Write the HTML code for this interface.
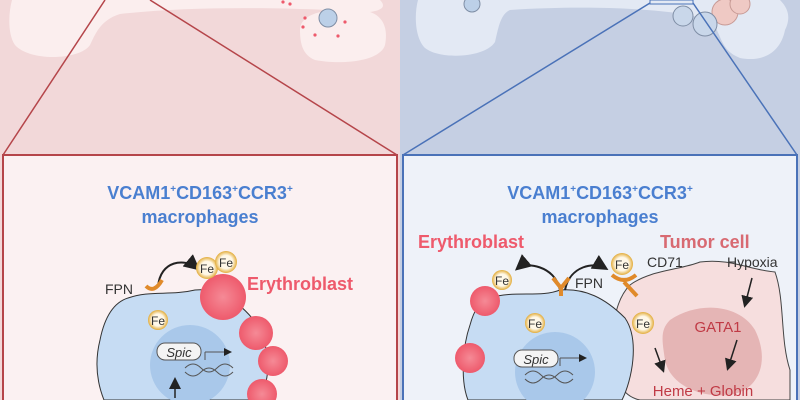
<!DOCTYPE html>
<html><head><style>html,body{margin:0;padding:0;background:#fff}svg{display:block}text{font-family:"Liberation Sans",sans-serif}</style></head><body>
<svg width="800" height="400" viewBox="0 0 800 400" xmlns="http://www.w3.org/2000/svg">
<defs>
<marker id="ah" markerWidth="8" markerHeight="8" refX="6" refY="4" orient="auto"><path d="M0,0 L8,4 L0,8 z" fill="#222"/></marker>
<radialGradient id="rbc" cx="50%" cy="50%" r="50%"><stop offset="0" stop-color="#f58a96"/><stop offset="1" stop-color="#ee5a6c"/></radialGradient>
<radialGradient id="fe" cx="50%" cy="50%" r="50%"><stop offset="0.6" stop-color="#fff8e8"/><stop offset="1" stop-color="#e2ac3a"/></radialGradient>
</defs>
<rect x="0" y="0" width="400" height="400" fill="#f2d8d9"/>
<rect x="400" y="0" width="400" height="400" fill="#c5cfe3"/>
<!-- top blobs left -->
<path d="M12,0 L380,0 C385,5 385,10 370,12 C300,8 200,5 120,14 C100,20 95,35 90,45 C80,60 30,62 15,45 C8,35 8,15 12,0Z" fill="#fbeeee"/>
<path d="M300,30 C300,12 330,8 360,10 C385,12 388,30 385,45 C380,62 340,65 315,60 C302,55 300,42 300,30Z" fill="#fbeeee"/>
<circle cx="328" cy="18" r="9" fill="#bcd0e8" stroke="#7f8ea5"/>
<g fill="#ee5a6c"><circle cx="305" cy="18" r="1.6"/><circle cx="303" cy="27" r="1.6"/><circle cx="315" cy="35" r="1.6"/><circle cx="338" cy="36" r="1.6"/><circle cx="345" cy="22" r="1.6"/><circle cx="290" cy="4" r="1.6"/><circle cx="283" cy="2" r="1.6"/></g>
<!-- top blobs right -->
<path d="M418,0 L780,0 C790,10 790,20 785,30 C780,55 760,62 740,58 C720,50 722,35 712,22 C690,10 600,4 510,10 C500,14 498,30 495,42 C485,58 440,60 425,48 C415,38 414,15 418,0Z" fill="#e3e9f4"/>
<circle cx="472" cy="4" r="8" fill="#bcd0e8" stroke="#7f8ea5"/>
<circle cx="725" cy="12" r="13" fill="#efc9c4" stroke="#c79a95"/>
<circle cx="740" cy="4" r="10" fill="#efc9c4" stroke="#c79a95"/>
<circle cx="705" cy="24" r="12" fill="#c9d7ea" stroke="#7f8ea5"/>
<circle cx="683" cy="16" r="10" fill="#c9d7ea" stroke="#7f8ea5"/>
<rect x="650" y="0" width="43" height="4" fill="none" stroke="#4a72b8"/>
<line x1="3" y1="155" x2="105" y2="0" stroke="#b5454a" stroke-width="1.5"/>
<line x1="150" y1="0" x2="397" y2="155" stroke="#b5454a" stroke-width="1.5"/>
<line x1="403" y1="155" x2="650" y2="3" stroke="#4a72b8" stroke-width="1.5"/>
<line x1="693" y1="3" x2="797" y2="155" stroke="#4a72b8" stroke-width="1.5"/>
<rect x="3" y="155" width="394" height="250" fill="#fbf1f2" stroke="#b5454a" stroke-width="2"/>
<rect x="403" y="155" width="394" height="250" fill="#eef2f9" stroke="#4a72b8" stroke-width="2"/>
<g font-weight="bold" font-size="18" fill="#4a7fd0" text-anchor="middle">
<text x="200" y="199">VCAM1<tspan font-size="10" dy="-7">+</tspan><tspan dy="7">CD163</tspan><tspan font-size="10" dy="-7">+</tspan><tspan dy="7">CCR3</tspan><tspan font-size="10" dy="-7">+</tspan></text><text x="200" y="223">macrophages</text>
<text x="600" y="199">VCAM1<tspan font-size="10" dy="-7">+</tspan><tspan dy="7">CD163</tspan><tspan font-size="10" dy="-7">+</tspan><tspan dy="7">CCR3</tspan><tspan font-size="10" dy="-7">+</tspan></text><text x="600" y="223">macrophages</text>
</g>
<!-- left macrophage -->
<path d="M128,298 C150,290 170,296 195,290 C215,288 235,298 252,318 C272,345 272,380 258,400 L104,400 C96,380 95,360 100,340 C104,320 112,303 128,298Z" fill="#c6dcf3" stroke="#333" stroke-width="1"/>
<circle cx="190" cy="365" r="40" fill="#a9c8ea"/>
<rect x="157" y="343" width="44" height="17" rx="8" fill="#f4f4f4" stroke="#555"/>
<text x="179" y="357" font-size="13" font-style="italic" text-anchor="middle" fill="#333">Spic</text>
<path d="M205,352 L205,360 M205,352 L230,352" stroke="#555" fill="none" marker-end="url(#ah)"/>
<path d="M185,368 q8,-8 16,0 t16,0 t16,0 M185,372 q8,8 16,0 t16,0 t16,0" stroke="#555" fill="none"/>
<line x1="175" y1="398" x2="175" y2="380" stroke="#222" stroke-width="1.5" marker-end="url(#ah)"/>
<path d="M158,287 C160,260 185,258 197,268" stroke="#222" stroke-width="2" fill="none" marker-end="url(#ah)"/>
<path d="M146,286 q8,8 16,-6" stroke="#e08a2a" stroke-width="4" fill="none"/>
<text x="105" y="294" font-size="14" fill="#333">FPN</text>
<circle cx="223" cy="297" r="23" fill="url(#rbc)"/>
<circle cx="256" cy="333" r="17" fill="url(#rbc)"/>
<circle cx="273" cy="361" r="15" fill="url(#rbc)"/>
<circle cx="262" cy="394" r="15" fill="url(#rbc)"/>
<g font-size="12" fill="#333" text-anchor="middle">
<circle cx="207" cy="268" r="11" fill="url(#fe)"/><text x="207" y="273">Fe</text>
<circle cx="226" cy="262" r="11" fill="url(#fe)"/><text x="226" y="267">Fe</text>
<circle cx="158" cy="320" r="10" fill="url(#fe)"/><text x="158" y="325">Fe</text>
</g>
<text x="247" y="290" font-size="18" font-weight="bold" fill="#ee5a6c">Erythroblast</text>
<!-- right tumor cell -->
<path d="M630,285 C650,270 680,270 700,262 C730,258 750,270 775,272 C785,300 780,340 790,370 L790,400 L640,400 C615,395 608,360 612,335 C615,310 620,295 630,285Z" fill="#f6dede" stroke="#444"/>
<path d="M670,320 C700,300 740,305 755,330 C770,360 760,390 730,395 C700,398 670,385 665,360 C662,340 660,330 670,320Z" fill="#e5b5b5"/>
<!-- right macrophage -->
<path d="M490,298 C515,290 540,298 560,290 C585,288 605,298 625,318 C640,340 632,380 622,400 L468,400 C460,380 463,345 470,325 C474,310 480,301 490,298Z" fill="#c6dcf3" stroke="#333"/>
<circle cx="555" cy="372" r="40" fill="#a9c8ea"/>
<rect x="514" y="350" width="44" height="17" rx="8" fill="#f4f4f4" stroke="#555"/>
<text x="536" y="364" font-size="13" font-style="italic" text-anchor="middle" fill="#333">Spic</text>
<path d="M560,358 L560,366 M560,358 L585,358" stroke="#555" fill="none" marker-end="url(#ah)"/>
<path d="M525,375 q8,-8 16,0 t16,0 t16,0 M525,379 q8,8 16,0 t16,0 t16,0" stroke="#555" fill="none"/>
<circle cx="485" cy="301" r="15" fill="url(#rbc)"/>
<circle cx="470" cy="358" r="15" fill="url(#rbc)"/>
<path d="M560,290 C555,265 525,262 518,268" stroke="#222" stroke-width="2" fill="none" marker-end="url(#ah)"/>
<path d="M565,290 C570,265 595,262 605,268" stroke="#222" stroke-width="2" fill="none" marker-end="url(#ah)"/>
<path d="M553,278 L561,288 L569,278 M561,288 L561,296" stroke="#e08a2a" stroke-width="4" fill="none"/>
<path d="M612,275 q12,10 24,0 M624,282 L637,296" stroke="#e08a2a" stroke-width="4" fill="none"/>
<text x="575" y="288" font-size="14" fill="#333">FPN</text>
<text x="647" y="267" font-size="14" fill="#333">CD71</text>
<text x="727" y="267" font-size="14" fill="#333">Hypoxia</text>
<g font-size="12" fill="#333" text-anchor="middle">
<circle cx="502" cy="280" r="10" fill="url(#fe)"/><text x="502" y="285">Fe</text>
<circle cx="535" cy="323" r="10" fill="url(#fe)"/><text x="535" y="328">Fe</text>
<circle cx="622" cy="264" r="11" fill="url(#fe)"/><text x="622" y="269">Fe</text>
<circle cx="643" cy="323" r="11" fill="url(#fe)"/><text x="643" y="328">Fe</text>
</g>
<line x1="752" y1="278" x2="745" y2="305" stroke="#222" stroke-width="1.5" marker-end="url(#ah)"/>
<line x1="737" y1="340" x2="728" y2="368" stroke="#222" stroke-width="1.5" marker-end="url(#ah)"/>
<line x1="655" y1="348" x2="663" y2="370" stroke="#222" stroke-width="1.5" marker-end="url(#ah)"/>
<text x="718" y="332" font-size="15" fill="#c03a45" text-anchor="middle">GATA1</text>
<text x="703" y="396" font-size="15" fill="#c03a45" text-anchor="middle">Heme + Globin</text>
<text x="418" y="248" font-size="18" font-weight="bold" fill="#ee5a6c">Erythroblast</text>
<text x="660" y="248" font-size="18" font-weight="bold" fill="#d86a72">Tumor cell</text>
</svg>
</body></html>
